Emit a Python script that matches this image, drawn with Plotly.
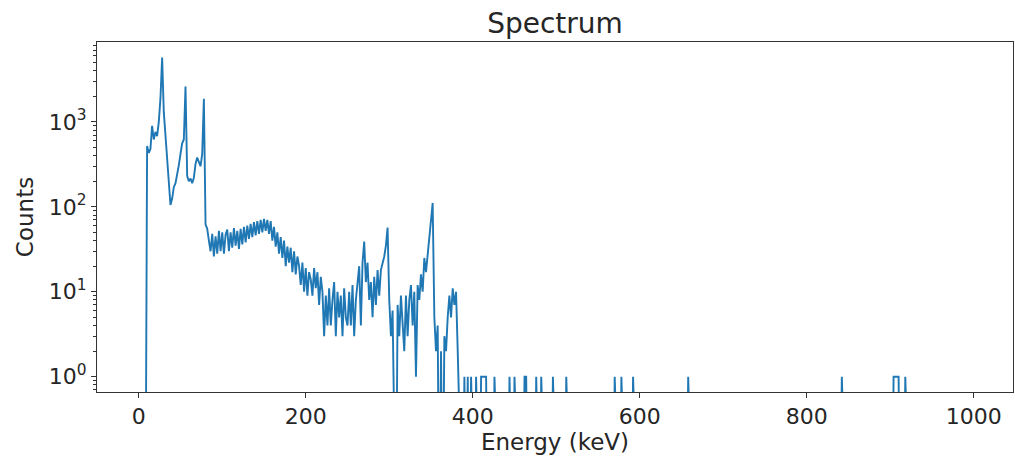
import numpy as np
import plotly.graph_objects as go

# Energy bins (keV), 2 keV wide
bin_width = 2
energy = np.arange(0, 998, bin_width)

# Counts for the low-energy region, bins 0..388 keV
main_counts = [
    0, 0, 0, 0, 0,
    520, 430, 480, 900, 620,
    760, 680, 1000, 1900, 5700,
    1300, 650, 400, 160, 105,
    125, 170, 190, 260, 310,
    420, 560, 620, 2600, 230,
    200, 215, 190, 220, 320,
    380, 340, 300, 420, 1870,
    62, 55, 40, 30, 48,
    26, 45, 28, 52, 30,
    50, 28, 47, 54, 30,
    50, 33, 56, 35, 52,
    32, 55, 36, 58, 38,
    60, 42, 63, 44, 66,
    46, 68, 48, 70, 50,
    72, 52, 70, 48, 68,
    40, 58, 34, 50, 28,
    44, 25, 40, 20, 34,
    22, 33, 17, 30, 16,
    26, 20, 12, 22, 10,
    19, 9, 17, 14, 9,
    19, 11, 17, 7, 15,
    10, 3, 9, 4, 11,
    4, 8, 13, 3, 10,
    5, 9, 3, 11, 5,
    4, 10, 4, 12, 3,
    8, 14, 20, 4, 22,
    39, 13, 22, 8, 13,
    5, 15, 7, 18, 9,
    18, 22, 26, 35, 57,
    8, 3, 6, 1, 0,
    7, 3, 9, 4, 2,
    9, 3, 8, 12, 4,
    10, 1, 12, 8, 16,
    10, 25, 17, 28, 40,
    70, 111, 5, 2, 4,
    0, 2, 0, 3, 2,
    5, 9, 5, 11, 7,
    10, 2, 0, 0, 0,
]

# Energies (keV) of isolated single-count bins above 388 keV
single_count_energies = [390, 394, 398, 404, 410, 412, 414, 416, 426, 444, 450,
                         462, 464, 476, 482, 496, 512, 570, 578, 592, 658, 842,
                         904, 906, 908, 910, 918]

counts = np.zeros(len(energy))
counts[:len(main_counts)] = main_counts
for e in single_count_energies:
    counts[e // bin_width] += 1

# log axis: clip empty bins below the axis (like matplotlib's nonpositive='clip')
y_plot = np.where(counts > 0, counts, 1e-2)

y_tickvals = [1, 10, 100, 1000]
y_ticktext = ["10<sup>0</sup>", "10<sup>1</sup>", "10<sup>2</sup>", "10<sup>3</sup>"]
x_tickvals = [0, 200, 400, 600, 800, 1000]
minor_vals = [m * 10 ** d for d in range(-1, 4) for m in range(2, 10)]

FONT = "DejaVu Sans"
TXT = "#262626"
AX = "#333333"

fig = go.Figure()
fig.add_trace(go.Scatter(
    x=energy, y=y_plot, mode="lines",
    line=dict(color="#1f77b4", width=1.9),
    showlegend=False,
))

fig.update_layout(
    width=1015, height=458,
    autosize=False,
    margin=dict(l=97, r=2, t=42, b=66, autoexpand=False),
    paper_bgcolor="white", plot_bgcolor="white",
    font=dict(family=FONT, color=TXT, size=22),
    title=dict(text="Spectrum", x=0.5, xref="paper", xanchor="center",
               y=1 - 23 / 458, yref="container", yanchor="middle",
               font=dict(size=28, family=FONT, color=TXT)),
)

fig.update_xaxes(
    range=[-50, 1047],
    tickvals=x_tickvals,
    ticks="outside", ticklen=5, tickwidth=1, tickcolor=AX,
    showline=True, linecolor=AX, linewidth=1, mirror=True,
    showgrid=False, zeroline=False,
    tickfont=dict(size=22, family=FONT, color=TXT),
    title=dict(text="Energy (keV)", font=dict(size=23, family=FONT, color=TXT), standoff=4),
)

fig.update_yaxes(
    type="log",
    range=[-0.18, 3.94],
    tickvals=y_tickvals, ticktext=y_ticktext,
    ticks="outside", ticklen=5, tickwidth=1, tickcolor=AX,
    minor=dict(tickvals=minor_vals, ticks="outside", ticklen=3, tickwidth=0.8,
               tickcolor=AX, showgrid=False),
    showline=True, linecolor=AX, linewidth=1, mirror=True,
    showgrid=False, zeroline=False,
    tickfont=dict(size=22, family=FONT, color=TXT),
    title=dict(text="Counts", font=dict(size=23, family=FONT, color=TXT), standoff=8),
)

fig.write_html("out.html", config={"displayModeBar": False},
               post_script="document.body.style.margin='0';")
